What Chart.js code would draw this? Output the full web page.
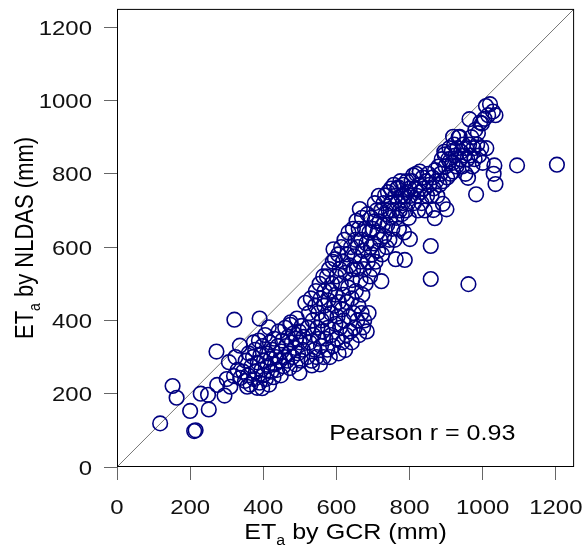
<!DOCTYPE html>
<html>
<head>
<meta charset="utf-8">
<script src="https://cdn.jsdelivr.net/npm/chart.js@4"></script>
<style>
html,body{margin:0;padding:0;background:#fff;}
#wrap{width:583px;height:548px;}
</style>
</head>
<body>
<div id="wrap"><canvas id="scatterET" width="583" height="548"></canvas></div>
<script>
// ET_a by GCR (x) vs ET_a by NLDAS (y), mm
const etGCR = [
118,152,163,200,211,215,229,251,249,272,274,294,321,310,306,324,336,320,337,300,330,
345,350,352,358,360,365,368,372,375,378,380,383,385,388,390,392,395,397,398,400,402,405,407,410,412,415,416,418,420,422,425,428,430,432,435,438,440,442,445,448,450,452,455,458,460,462,465,468,470,472,475,478,480,483,486,488,490,492,495,498,499,500,503,505,508,510,374,390,356,
515,474,520,522,525,527,530,532,533,535,537,540,542,544,546,548,550,552,554,555,557,558,560,562,564,565,567,568,570,572,574,575,577,578,580,582,583,585,586,588,590,591,592,594,596,597,598,600,602,603,605,606,607,609,610,612,613,615,616,618,619,620,
624,642,673,622,625,627,628,630,632,633,635,637,638,640,642,643,645,646,647,649,650,652,653,655,656,657,658,660,661,662,664,665,666,668,669,670,671,673,675,676,678,680,682,683,685,686,688,690,692,694,695,697,699,700,
705,702,704,707,710,712,714,716,718,720,723,722,725,727,729,731,733,735,737,739,741,743,745,747,749,751,753,755,757,759,761,762,764,766,768,769,771,773,775,777,779,781,783,785,787,788,790,792,794,796,798,800,
801,810,803,806,812,815,818,820,823,826,828,830,833,836,839,842,845,848,851,854,858,858,860,863,865,866,869,870,873,876,879,882,885,888,891,892,895,896,898,901,903,906,909,910,912,915,918,919,919,922,925,928,931,934,937,938,941,944,947,950,953,955,958,960,961,963,964,966,969,972,975,978,980,982,985,987,990,993,996,998,
1009,1028,1035,1015,1020,1005,1032,1035,1094,1203,1030,1000,1010
];
const etNLDAS = [
119,221,189,153,98,100,200,157,197,315,224,195,402,219,286,300,331,248,243,240,265,
260,235,290,250,310,225,275,300,240,320,260,216,285,345,230,305,265,215,330,250,290,360,240,310,275,381,225,340,295,260,320,245,350,280,300,265,330,370,290,250,315,345,275,300,380,330,290,355,310,270,395,340,300,365,325,280,350,405,310,370,257,340,290,385,320,355,340,405,219,
448,388,300,380,420,340,460,290,277,400,360,320,440,480,300,380,420,350,500,280,460,330,400,370,520,300,440,480,350,410,520,320,380,455,540,300,481,420,360,500,560,330,594,440,567,390,470,520,350,410,580,310,450,540,380,500,600,430,340,560,470,400,
319,340,381,620,530,360,450,580,490,640,410,550,370,600,460,510,650,539,420,575,380,620,480,672,540,400,600,440,650,360,704,560,510,620,420,680,470,590,540,400,650,500,610,370,690,560,420,640,520,600,680,580,650,540,
720,610,670,560,700,640,590,740,670,620,507,700,580,660,720,630,741,690,600,660,750,700,620,680,760,720,650,700,770,620,740,567,680,760,720,763,650,700,780,740,690,720,770,640,565,740,700,780,750,720,680,760,
622,796,740,780,720,760,800,740,700,770,806,750,720,790,760,700,780,740,800,770,603,513,740,790,701,760,679,810,780,740,820,770,800,840,718,780,860,853,820,703,790,840,870,834,800,860,830,806,901,880,850,820,870,900,901,840,860,820,880,850,800,870,840,789,499,880,949,850,900,820,870,840,920,744,880,911,850,940,870,937,
985,970,960,960,990,950,823,772,823,825,800,830,870
];
const tickValues = [0, 200, 400, 600, 800, 1000, 1200];
const axisMin = 0;
const axisMax = 1250;
const refLine = [axisMin, axisMax];
const pearsonText = "Pearson r = 0.93";

const fuente = "'Liberation Sans', Arial, Helvetica, sans-serif";
const estiramiento = 1.14; // el texto del original es algo ancho

const puntos = etGCR.map((x, i) => ({x: x, y: etNLDAS[i]}));

function textoAncho(ctx, txt, x, y, align) {
  ctx.save();
  ctx.translate(x, y);
  ctx.scale(estiramiento, 1);
  ctx.textAlign = align;
  ctx.fillText(txt, 0, 0);
  ctx.restore();
}

function dibujarTitulo(ctx, resto) {
  // dibuja "ET" + subindice "a" + resto, centrado en (0,0), linea base en 0
  const fGrande = "22px " + fuente;
  const fChica = "14px " + fuente;
  ctx.font = fGrande;
  const wET = ctx.measureText("ET").width;
  const wResto = ctx.measureText(" " + resto).width;
  ctx.font = fChica;
  const wA = ctx.measureText("a").width;
  let x = -(wET + wA + wResto) / 2;
  ctx.textAlign = "left";
  ctx.textBaseline = "alphabetic";
  ctx.font = fGrande;
  ctx.fillText("ET", x, 0);
  x += wET;
  ctx.font = fChica;
  ctx.fillText("a", x, 6);
  x += wA;
  ctx.font = fGrande;
  ctx.fillText(" " + resto, x, 0);
}

const marcoYTitulos = {
  id: "marcoYTitulos",
  afterDraw(chart) {
    const ctx = chart.ctx;
    const a = chart.chartArea;
    const sx = chart.scales.x;
    const sy = chart.scales.y;
    ctx.save();
    ctx.strokeStyle = "#000";
    ctx.lineWidth = 1;
    ctx.strokeRect(a.left + 0.5, a.top + 0.5, a.right - a.left - 1, a.bottom - a.top - 1);

    ctx.fillStyle = "#111";
    ctx.textBaseline = "alphabetic";
    ctx.font = "21px " + fuente;
    tickValues.forEach(v => {
      textoAncho(ctx, String(v), sx.getPixelForValue(v), 514, "center");
      textoAncho(ctx, String(v), 92, sy.getPixelForValue(v) + 7.5, "right");
    });

    ctx.fillStyle = "#000";
    ctx.font = "22px " + fuente;
    textoAncho(ctx, pearsonText, sx.getPixelForValue(835), sy.getPixelForValue(75), "center");

    // titulo eje x
    ctx.save();
    ctx.translate((a.left + a.right) / 2, 539);
    ctx.scale(estiramiento, 1);
    dibujarTitulo(ctx, "by GCR (mm)");
    ctx.restore();

    // titulo eje y rotado
    ctx.save();
    ctx.translate(33, (a.top + a.bottom) / 2);
    ctx.scale(estiramiento, 1);
    ctx.rotate(-Math.PI / 2);
    dibujarTitulo(ctx, "by NLDAS (mm)");
    ctx.restore();

    ctx.restore();
  }
};

const ejeComun = {
  type: "linear",
  min: axisMin,
  max: axisMax,
  border: {display: false},
  grid: {
    drawOnChartArea: false,
    drawTicks: true,
    tickLength: 13,
    tickColor: "#666",
    tickWidth: 1
  },
  ticks: {
    display: false,
    stepSize: 200,
    includeBounds: false
  }
};

new Chart(document.getElementById("scatterET"), {
  type: "scatter",
  data: {
    datasets: [
      {
        data: puntos,
        borderColor: "#000080",
        backgroundColor: "rgba(0,0,0,0)",
        borderWidth: 1.6,
        pointRadius: 7.3,
        pointHoverRadius: 7.3,
        order: 1
      },
      {
        type: "line",
        data: refLine.map(v => ({x: v, y: v})),
        borderColor: "#777",
        borderWidth: 1,
        pointRadius: 0,
        fill: false,
        order: 2
      }
    ]
  },
  options: {
    responsive: false,
    animation: false,
    layout: {padding: {top: 8, right: 7, left: 0, bottom: 0}},
    plugins: {
      legend: {display: false},
      tooltip: {enabled: false}
    },
    scales: {
      x: Object.assign({}, ejeComun, {
        position: "bottom",
        afterFit(scale) {
          scale.height = 81;
          scale.paddingLeft = 0; scale.paddingRight = 0;
          scale.paddingTop = 0; scale.paddingBottom = 0;
        }
      }),
      y: Object.assign({}, ejeComun, {
        position: "left",
        afterFit(scale) {
          scale.width = 117;
          scale.paddingLeft = 0; scale.paddingRight = 0;
          scale.paddingTop = 0; scale.paddingBottom = 0;
        }
      })
    }
  },
  plugins: [marcoYTitulos]
});
</script>
</body>
</html>
